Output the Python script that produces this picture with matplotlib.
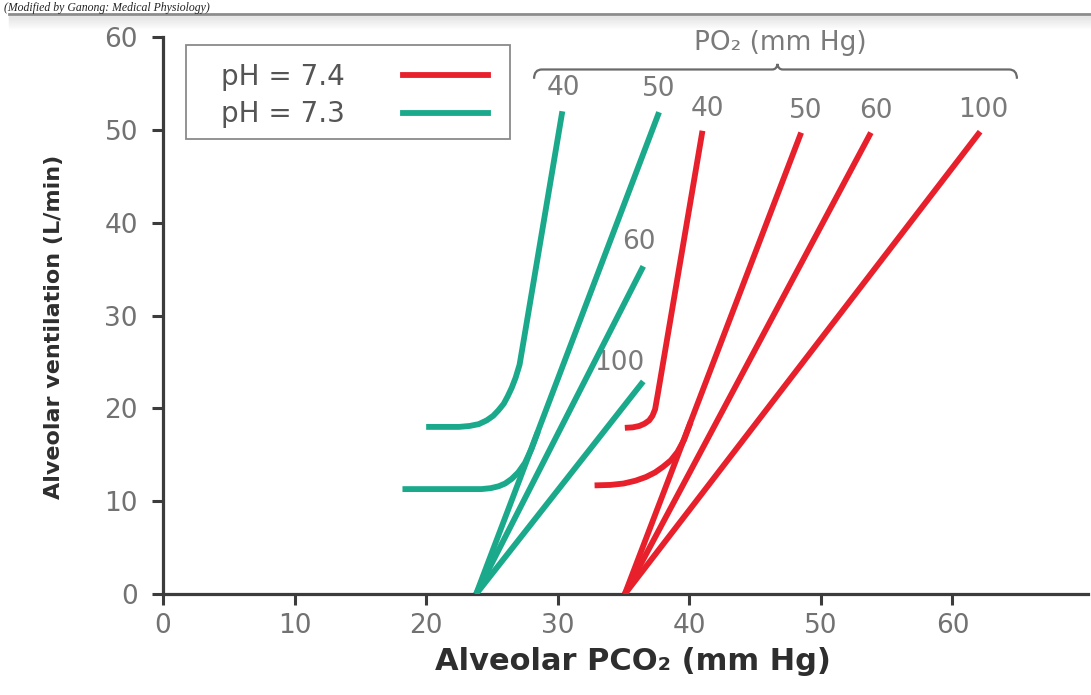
import matplotlib
matplotlib.use("Agg")
import matplotlib.pyplot as plt
from matplotlib.lines import Line2D
from matplotlib.path import Path
from matplotlib.patches import PathPatch, Rectangle

# ---------------- data ----------------
x_ticks = [0, 10, 20, 30, 40, 50, 60]
y_ticks = [0, 10, 20, 30, 40, 50, 60]
legend_labels = ["pH = 7.4", "pH = 7.3"]
po2_labels = ["40", "50", "60", "100"]

# pH 7.3 (teal) curves, alveolar PCO2 (x) vs alveolar ventilation (y)
ph73_po2_40_x = [20.0, 22.5, 23.3, 24.0, 24.6, 25.1, 25.5, 25.9, 26.2, 26.5,
                 26.8, 27.1, 27.4, 30.35]
ph73_po2_40_y = [18.0, 18.0, 18.1, 18.3, 18.7, 19.2, 19.8, 20.5, 21.3, 22.2,
                 23.3, 24.7, 27.2, 52.0]
ph73_po2_50_x = [23.8, 37.7]
ph73_po2_50_y = [0.0, 51.9]
ph73_po2_50_knee_x = [18.2, 24.2, 24.9, 25.5, 26.0, 26.5, 27.0, 27.5, 28.0, 28.5]
ph73_po2_50_knee_y = [11.3, 11.3, 11.4, 11.6, 11.9, 12.4, 13.1, 14.1, 15.6, 17.5]
ph73_po2_60_x = [23.8, 36.5]
ph73_po2_60_y = [0.0, 35.3]
ph73_po2_100_x = [23.8, 36.5]
ph73_po2_100_y = [0.0, 22.9]

# pH 7.4 (red) curves
ph74_po2_40_x = [35.1, 35.7, 36.2, 36.6, 36.95, 37.2, 37.4, 37.6, 41.0]
ph74_po2_40_y = [17.9, 17.95, 18.1, 18.35, 18.7, 19.2, 19.9, 21.5, 49.9]
ph74_po2_50_x = [35.1, 48.5]
ph74_po2_50_y = [0.0, 49.7]
ph74_po2_50_knee_x = [32.8, 34.0, 35.0, 35.9, 36.7, 37.4, 38.0, 38.6, 39.1,
                      39.6, 40.1]
ph74_po2_50_knee_y = [11.7, 11.75, 11.9, 12.2, 12.6, 13.1, 13.7, 14.4, 15.3,
                      16.6, 18.5]
ph74_po2_60_x = [35.1, 53.8]
ph74_po2_60_y = [0.0, 49.7]
ph74_po2_100_x = [35.1, 62.1]
ph74_po2_100_y = [0.0, 49.8]

# ---------------- style ----------------
RED = "#e8202c"
TEAL = "#1aa98b"
AXC = "#3c3c3c"
TICKC = "#727272"
LABC = "#7a7a7a"
LW = 4.2

fig = plt.figure(figsize=(10.91, 6.95), dpi=100)
ax = fig.add_axes([163 / 1091, 101 / 695, 925 / 1091, 557 / 695])

teal_curves = [
    (ph73_po2_40_x, ph73_po2_40_y),
    (ph73_po2_50_x, ph73_po2_50_y),
    (ph73_po2_50_knee_x, ph73_po2_50_knee_y),
    (ph73_po2_60_x, ph73_po2_60_y),
    (ph73_po2_100_x, ph73_po2_100_y),
]
red_curves = [
    (ph74_po2_40_x, ph74_po2_40_y),
    (ph74_po2_50_x, ph74_po2_50_y),
    (ph74_po2_50_knee_x, ph74_po2_50_knee_y),
    (ph74_po2_60_x, ph74_po2_60_y),
    (ph74_po2_100_x, ph74_po2_100_y),
]
for xs, ys in teal_curves:
    ax.plot(xs, ys, color=TEAL, lw=LW, solid_capstyle="butt",
            solid_joinstyle="round", zorder=3)
for xs, ys in red_curves:
    ax.plot(xs, ys, color=RED, lw=LW, solid_capstyle="butt",
            solid_joinstyle="round", zorder=3)

# PO2 labels at the curve ends
teal_ends = [(ph73_po2_40_x, ph73_po2_40_y), (ph73_po2_50_x, ph73_po2_50_y),
             (ph73_po2_60_x, ph73_po2_60_y), (ph73_po2_100_x, ph73_po2_100_y)]
teal_offsets = [(1, 23), (0, 23), (-4, 24), (-24, 18)]
red_ends = [(ph74_po2_40_x, ph74_po2_40_y), (ph74_po2_50_x, ph74_po2_50_y),
            (ph74_po2_60_x, ph74_po2_60_y), (ph74_po2_100_x, ph74_po2_100_y)]
red_offsets = [(5, 22), (5, 22), (5, 22), (3, 22)]
for lab, (xs, ys), off in zip(po2_labels, teal_ends, teal_offsets):
    ax.annotate(lab, (xs[-1], ys[-1]), xytext=off, textcoords="offset pixels",
                ha="center", va="center", fontsize=19, color=LABC, zorder=1)
for lab, (xs, ys), off in zip(po2_labels, red_ends, red_offsets):
    ax.annotate(lab, (xs[-1], ys[-1]), xytext=off, textcoords="offset pixels",
                ha="center", va="center", fontsize=19, color=LABC, zorder=1)

# brace over the labels with "PO2 (mm Hg)"
BX0, BX1, BY, BTIP = 28.2, 64.9, 56.5, 46.7
verts = [(BX0, BY - 1.0), (BX0, BY), (BX0 + 0.6, BY),
         (BTIP - 0.4, BY), (BTIP - 0.05, BY), (BTIP, BY + 0.6),
         (BTIP + 0.05, BY), (BTIP + 0.4, BY),
         (BX1 - 0.6, BY), (BX1, BY), (BX1, BY - 1.0)]
codes = [Path.MOVETO, Path.CURVE3, Path.CURVE3,
         Path.LINETO, Path.CURVE3, Path.CURVE3,
         Path.CURVE3, Path.CURVE3,
         Path.LINETO, Path.CURVE3, Path.CURVE3]
ax.add_patch(PathPatch(Path(verts, codes), fill=False, edgecolor="#6a6a6a",
                       lw=1.6, clip_on=False))
ax.text(BTIP + 0.2, BY + 2.9, "PO₂ (mm Hg)", ha="center", va="center",
        fontsize=19, color=LABC)

# axes styling
ax.set_xlim(0, 70.3)
ax.set_ylim(0, 60)
ax.set_xticks(x_ticks)
ax.set_yticks(y_ticks)
for s in ["top", "right"]:
    ax.spines[s].set_visible(False)
for s in ["left", "bottom"]:
    ax.spines[s].set_color(AXC)
    ax.spines[s].set_linewidth(2.3)
ax.tick_params(axis="both", direction="out", length=8, width=2.2, color=AXC,
               labelcolor=TICKC, labelsize=19)
ax.tick_params(axis="y", pad=10)
ax.tick_params(axis="x", pad=6)

ax.set_xlabel("Alveolar PCO₂ (mm Hg)", fontsize=22, fontweight="bold",
              color="#2e2e2e", va="center")
ax.xaxis.set_label_coords(0.508, -0.122)
ax.set_ylabel("Alveolar ventilation (L/min)", fontsize=16, fontweight="bold",
              color="#2e2e2e", va="center")
ax.yaxis.set_label_coords(-0.118, 0.479)

# legend: entries (text before the line sample) inside a separate frame
handles = [Line2D([], [], color=RED, lw=LW), Line2D([], [], color=TEAL, lw=LW)]
leg = ax.legend(handles, legend_labels, loc="upper left",
                bbox_to_anchor=(0.0627, 0.953), markerfirst=False,
                frameon=False, fontsize=20, labelcolor="#555555",
                handlelength=3.06, handletextpad=2.1, borderpad=0.0,
                labelspacing=0.33, borderaxespad=0.0)
ax.add_patch(Rectangle((0.0249, 0.8169), 0.3503, 0.1695,
                       transform=ax.transAxes, fill=False,
                       edgecolor="#8a8a8a", lw=1.3, zorder=5))

# top remnants of the screenshot: caption line and frame edge
fig.text(0.004, 1 - 10.5 / 695, "(Modified by Ganong: Medical Physiology)",
         fontsize=8.5, family="Liberation Serif", style="italic",
         va="baseline", ha="left", color="#222222")
top_y = 1 - 14 / 695
fig.add_artist(Line2D([0.008, 1.0], [top_y, top_y], color="#8c8c8c", lw=2.0,
                      transform=fig.transFigure))
for i in range(1, 14):
    yy = top_y - (i + 1) / 695
    fig.add_artist(Line2D([0.008, 1.0], [yy, yy], color="#9a9a9a",
                          lw=1.0, alpha=0.22 * (1 - i / 14),
                          transform=fig.transFigure))

fig.savefig("out.png", dpi=100)
